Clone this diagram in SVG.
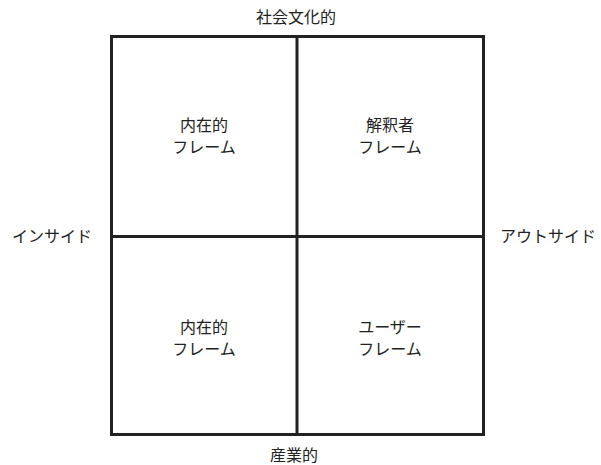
<svg xmlns="http://www.w3.org/2000/svg" width="601" height="465" viewBox="0 0 601 465">
<style>
text{font-family:"Noto Sans CJK JP","Noto Sans",sans-serif;font-size:16px;fill:#222;text-anchor:middle}
.ln{stroke:#222;stroke-width:3;fill:none}
</style>
<rect width="601" height="465" fill="#fff"/>
<g id="connectors">
<rect class="ln" x="111.5" y="36.5" width="372" height="398"/>
<line class="ln" x1="297" y1="36.5" x2="297" y2="434.5"/>
<line class="ln" x1="111.5" y1="236.5" x2="483.5" y2="236.5"/>
</g>
<g id="axis-top"><text x="296" y="23">社会文化的</text></g>
<g id="axis-bottom"><text x="294" y="461">産業的</text></g>
<g id="axis-left"><text x="52" y="242">インサイド</text></g>
<g id="axis-right"><text x="548" y="242">アウトサイド</text></g>
<g id="q-tl"><text x="204" y="131">内在的</text><text x="204" y="153">フレーム</text></g>
<g id="q-tr"><text x="390" y="131">解釈者</text><text x="390" y="153">フレーム</text></g>
<g id="q-bl"><text x="204" y="333">内在的</text><text x="204" y="355">フレーム</text></g>
<g id="q-br"><text x="390" y="333">ユーザー</text><text x="390" y="355">フレーム</text></g>
</svg>
